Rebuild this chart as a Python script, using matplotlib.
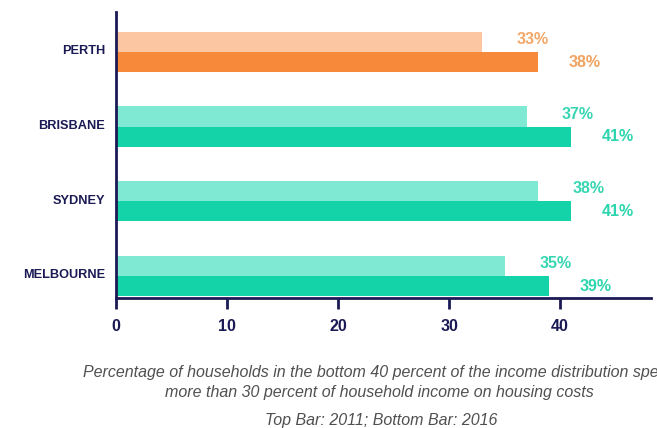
import numpy as np
import matplotlib
matplotlib.use("Agg")
import matplotlib.pyplot as plt

# share of low-income households in housing stress, by city
cities = ["MELBOURNE", "SYDNEY", "BRISBANE", "PERTH"]
pct_2011 = [35, 38, 37, 33]
pct_2016 = [39, 41, 41, 38]

NAVY = "#1b1a55"
light = ["#7fe9d3", "#7fe9d3", "#7fe9d3", "#fcc6a2"]
dark = ["#14d3a9", "#14d3a9", "#14d3a9", "#f7893b"]
lbl_light = ["#36d6b2", "#36d6b2", "#36d6b2", "#f3a767"]
lbl_dark = ["#2dd5ae", "#2dd5ae", "#2dd5ae", "#f0a260"]

plt.rcParams["font.family"] = ["Liberation Sans", "DejaVu Sans"]

fig = plt.figure(figsize=(6.57, 4.28), dpi=100)
ax = fig.add_axes([0.1766, 0.3037, 0.8144, 0.6683])

y = np.arange(len(cities))
h = 0.27
ax.barh(y + h / 2, pct_2011, height=h, color=light, zorder=2)
ax.barh(y - h / 2, pct_2016, height=h, color=dark, zorder=2)

for i in range(len(cities)):
    ax.annotate(f"{pct_2011[i]}%", (pct_2011[i], y[i] + h / 2 + 0.03),
                xytext=(25, 0), textcoords="offset points", va="center",
                ha="left", fontsize=11.5, fontweight="bold", color=lbl_light[i])
    ax.annotate(f"{pct_2016[i]}%", (pct_2016[i], y[i] - h / 2),
                xytext=(22, 0), textcoords="offset points", va="center",
                ha="left", fontsize=11.5, fontweight="bold", color=lbl_dark[i])

ax.set_xlim(0, 48.2)
ax.set_ylim(-0.295, 3.535)
ax.set_xticks([0, 10, 20, 30, 40])
ax.set_yticks(y + 0.03)
ax.set_yticklabels(cities)

for s in ["top", "right"]:
    ax.spines[s].set_visible(False)
for s in ["left", "bottom"]:
    ax.spines[s].set_color(NAVY)
    ax.spines[s].set_linewidth(2)
    ax.spines[s].set_zorder(3)

ax.tick_params(axis="x", length=8, width=2, color=NAVY, pad=7,
               labelsize=11.5, labelcolor=NAVY)
ax.tick_params(axis="y", length=0, pad=8, labelsize=9.2, labelcolor=NAVY)
for t in ax.get_xticklabels() + ax.get_yticklabels():
    t.set_fontweight("bold")

cap = dict(ha="center", va="center", fontsize=11.5, style="italic", color="#505050")
fig.text(0.578, 1 - 373 / 428,
         "Percentage of households in the bottom 40 percent of the income distribution spend",
         **cap)
fig.text(0.578, 1 - 393 / 428,
         "more than 30 percent of household income on housing costs", **cap)
fig.text(0.58, 1 - 420 / 428, "Top Bar: 2011; Bottom Bar: 2016", **cap)

fig.savefig("out.png", dpi=100)
